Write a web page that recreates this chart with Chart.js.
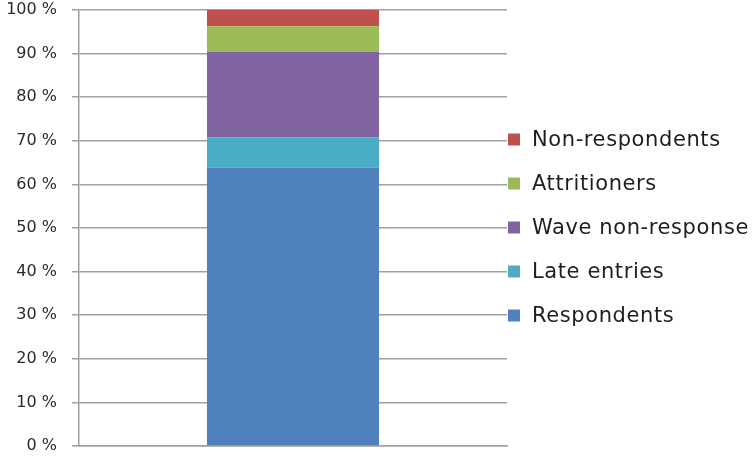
<!DOCTYPE html>
<html>
<head>
<meta charset="utf-8">
<title>Sample composition</title>
<script src="https://cdn.jsdelivr.net/npm/chart.js"></script>
<style>
  html, body { margin: 0; padding: 0; background: #ffffff; }
  #wrap { width: 752px; height: 457px; position: relative; }
</style>
</head>
<body>
<div id="wrap"><canvas id="stackChart"></canvas></div>
<script>
// Data (percent of sample)
const categories = [''];
const seriesNames = ['Respondents', 'Late entries', 'Wave non-response', 'Attritioners', 'Non-respondents'];
const seriesValues = [63.8, 7.0, 19.6, 5.9, 3.7];
const yTicks = [0, 10, 20, 30, 40, 50, 60, 70, 80, 90, 100];

// Excel 2007 palette
const seriesColors = ['#4F81BD', '#4BACC6', '#8064A2', '#9BBB59', '#C0504D'];

// Legend drawn by hand so it can sit over the gridline ends like the original
const sideLegend = {
    id: 'sideLegend',
    afterDraw(chart) {
        const ctx = chart.ctx;
        const sets = chart.data.datasets.slice().reverse();
        ctx.save();
        ctx.font = '21px "DejaVu Sans"';
        ctx.letterSpacing = '0.6px';
        ctx.textBaseline = 'middle';
        ctx.textAlign = 'left';
        sets.forEach((ds, i) => {
            const y = 139.5 + i * 44;
            ctx.fillStyle = ds.backgroundColor;
            ctx.fillRect(508, y - 6, 12, 12);
            ctx.fillStyle = '#1e1e1e';
            ctx.fillText(ds.label, 532, y + 1);
        });
        ctx.restore();
    }
};

const ctx = document.getElementById('stackChart').getContext('2d');
new Chart(ctx, {
    type: 'bar',
    data: {
        labels: categories,
        datasets: seriesNames.map((name, i) => ({
            label: name,
            data: [seriesValues[i]],
            backgroundColor: seriesColors[i],
            borderWidth: 0,
            categoryPercentage: 1,
            barPercentage: 0.402
        }))
    },
    options: {
        responsive: true,
        maintainAspectRatio: false,
        animation: false,
        layout: { padding: { top: 10, right: 245, bottom: 11, left: 0 } },
        plugins: {
            legend: { display: false },
            tooltip: { enabled: false }
        },
        scales: {
            x: {
                stacked: true,
                grid: { display: false, drawTicks: false },
                border: { display: true, color: '#a0a0a0', width: 1.5 },
                ticks: { display: false },
                afterFit(scale) { scale.height = 0; }
            },
            y: {
                stacked: true,
                min: 0,
                max: 100,
                afterBuildTicks(scale) { scale.ticks = yTicks.map(v => ({ value: v })); },
                grid: { color: '#a0a0a0', lineWidth: 1.5, tickLength: 7 },
                border: { display: true, color: '#a0a0a0', width: 1.5 },
                ticks: {
                    padding: 15,
                    color: '#2b2b2b',
                    font: { family: 'DejaVu Sans', size: 16 },
                    callback: v => v + ' %'
                },
                afterFit(scale) {
                    scale.width = 79;
                    scale.paddingTop = 0;
                    scale.paddingBottom = 0;
                }
            }
        }
    },
    plugins: [sideLegend]
});
</script>
</body>
</html>
